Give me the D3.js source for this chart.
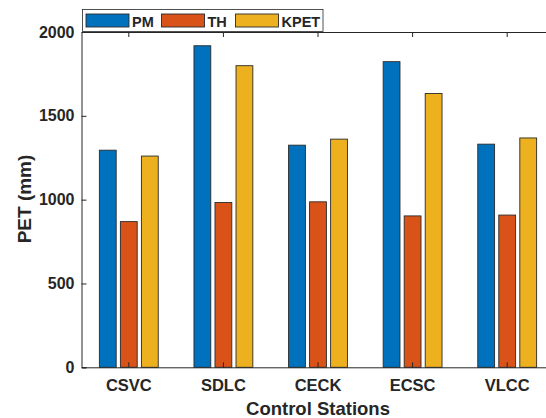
<!DOCTYPE html>
<html>
<head>
<meta charset="utf-8">
<script src="https://cdn.jsdelivr.net/npm/d3@7"></script>
<style>
  body { margin: 0; background: #fff; }
  svg { display: block; }
  text { font-family: "Liberation Sans", Arial, sans-serif; font-weight: bold; fill: #262626; }
</style>
</head>
<body>
<div id="chart"></div>
<script>
// data
const stations = ["CSVC", "SDLC", "CECK", "ECSC", "VLCC"];
const seriesNames = ["PM", "TH", "KPET"];
const pmValues = [1295, 1918, 1325, 1823, 1331];
const thValues = [869, 983, 987, 903, 908];
const kpetValues = [1260, 1799, 1361, 1633, 1368];
const yTicks = [0, 500, 1000, 1500, 2000];
const colors = ["#0072BD", "#D95319", "#EDB120"];

const w = 546, h = 418;
// plot box (right side runs off the picture like the original)
const margin = { top: 32, left: 81.5, bottom: 367.3, right: 554.5 };

const svg = d3.select("#chart").append("svg")
    .attr("width", w)
    .attr("height", h);

const xScale = d3.scaleBand()
    .domain(stations)
    .range([margin.left, margin.right])
    .padding(0);
const bw = xScale.bandwidth();

// grouped bars inside each category, matlab style
const xInner = d3.scaleBand()
    .domain(seriesNames)
    .range([-bw / 3, bw / 3])
    .paddingInner(0.2)
    .paddingOuter(0.1);

const yScale = d3.scaleLinear()
    .domain([0, 2000])
    .range([margin.bottom, margin.top]);

const allValues = [pmValues, thValues, kpetValues];
const rows = [];
seriesNames.forEach((s, i) => {
    stations.forEach((st, j) => {
        rows.push({ station: st, series: s, value: allValues[i][j], idx: i });
    });
});

svg.append("g")
    .selectAll("rect")
    .data(rows)
    .join("rect")
    .attr("x", d => xScale(d.station) + bw / 2 + xInner(d.series))
    .attr("y", d => yScale(d.value))
    .attr("width", xInner.bandwidth())
    .attr("height", d => yScale(0) - yScale(d.value))
    .attr("fill", d => colors[d.idx])
    .attr("stroke", "#2a2a2a")
    .attr("stroke-width", 0.9);

// axes: ticks point inward
const yAxis = d3.axisLeft(yScale)
    .tickValues(yTicks)
    .tickSize(-5)
    .tickPadding(7)
    .tickFormat(d3.format("d"));
const gy = svg.append("g")
    .attr("transform", "translate(" + margin.left + ",0)")
    .call(yAxis);
gy.select(".domain").attr("stroke", "#262626");
gy.selectAll(".tick line").attr("stroke", "#262626");
gy.selectAll(".tick text")
    .attr("font-size", 16)
    .attr("fill", "#262626")
    .attr("font-family", "Liberation Sans, Arial, sans-serif")
    .attr("font-weight", "bold");

const xAxis = d3.axisBottom(xScale)
    .tickSize(-5)
    .tickPadding(12)
    .tickSizeOuter(0);
const gx = svg.append("g")
    .attr("transform", "translate(0," + margin.bottom + ")")
    .call(xAxis);
gx.select(".domain").attr("stroke", "#262626");
gx.selectAll(".tick line").attr("stroke", "#262626");
gx.selectAll(".tick text")
    .attr("font-size", 16.5)
    .attr("fill", "#262626")
    .attr("font-family", "Liberation Sans, Arial, sans-serif")
    .attr("font-weight", "bold");

// top box line with ticks
const xTop = d3.axisTop(xScale)
    .tickSize(-5)
    .tickSizeOuter(0)
    .tickFormat("");
const gt = svg.append("g")
    .attr("transform", "translate(0," + margin.top + ")")
    .call(xTop);
gt.select(".domain").attr("stroke", "#262626");
gt.selectAll(".tick line").attr("stroke", "#262626");

// axis labels
svg.append("text")
    .attr("x", 318)
    .attr("y", 415)
    .attr("text-anchor", "middle")
    .attr("font-size", 18.5)
    .text("Control Stations");

svg.append("text")
    .attr("transform", "translate(31," + 199 + ") rotate(-90)")
    .attr("text-anchor", "middle")
    .attr("font-size", 19)
    .text("PET (mm)");

// legend
const legend = svg.append("g");
legend.append("rect")
    .attr("x", 82.5)
    .attr("y", 9.5)
    .attr("width", 240.5)
    .attr("height", 22)
    .attr("fill", "#fff")
    .attr("stroke", "#262626")
    .attr("stroke-width", 0.8);
const legX = [86, 161.5, 235.5];
seriesNames.forEach((s, i) => {
    legend.append("rect")
        .attr("x", legX[i])
        .attr("y", 14)
        .attr("width", 43)
        .attr("height", 13)
        .attr("fill", colors[i])
        .attr("stroke", "#2a2a2a")
        .attr("stroke-width", 0.9);
    legend.append("text")
        .attr("x", legX[i] + 46)
        .attr("y", 26.5)
        .attr("font-size", 14.5)
        .text(s);
});
</script>
</body>
</html>
